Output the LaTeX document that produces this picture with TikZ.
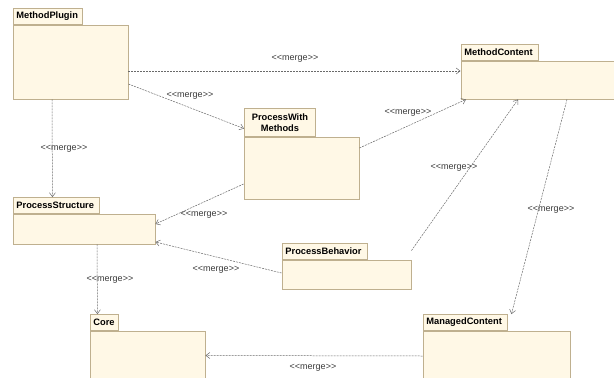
\documentclass[tikz,border=0pt]{standalone}
\usepackage{fontspec}
\setmainfont{Liberation Sans}[Ligatures=TeXOff]
\usetikzlibrary{arrows.meta}
\definecolor{pkgfill}{HTML}{FFF8E6}
\definecolor{pkgline}{HTML}{BFB08F}
\definecolor{conn}{HTML}{6A6A6A}
\definecolor{lbl}{HTML}{3A3A3A}
\newcommand\mrgtxt{<\kern0pt<merge>\kern0pt>}
\tikzset{
  body/.style={draw=pkgline, fill=pkgfill, line width=0.9pt, inner sep=0pt},
  tab/.style={draw=pkgline, fill=pkgfill, line width=0.9pt, anchor=south west,
    inner xsep=3pt, inner ysep=1pt, minimum height=16pt,
    font=\fontsize{9.3}{10.5}\selectfont\bfseries, align=left},
  merge/.style={draw=conn, line width=0.5pt, dash pattern=on 2pt off 1pt,
    -{Straight Barb[length=4pt,width=6pt]}},
  mlab/.style={text=lbl, font=\fontsize{9}{10}\selectfont, inner sep=0pt}
}
\begin{document}
\begin{tikzpicture}[x=1pt,y=-1pt]
\useasboundingbox (0,0) rectangle (614,378);
% packages
\node[body, minimum width=115pt, minimum height=74pt] (mp) at (70.5,62) {};
\node[tab, text width=63pt] (mpt) at (13,25) {MethodPlugin};
\node[body, minimum width=154pt, minimum height=38pt] (mc) at (538,80) {};
\node[tab, text width=71pt] (mct) at (461,61) {MethodContent};
\node[body, minimum width=115pt, minimum height=62pt] (pwm) at (301.5,168) {};
\node[tab, text width=65pt, align=center, minimum height=28pt] (pwmt) at (244,137) {ProcessWith\\Methods};
\node[body, minimum width=142pt, minimum height=30pt] (ps) at (84,229) {};
\node[tab, text width=80pt] (pst) at (13,214) {ProcessStructure};
\node[body, minimum width=129pt, minimum height=29pt] (pb) at (346.5,274.5) {};
\node[tab, text width=79pt] (pbt) at (282,260) {ProcessBehavior};
\node[body, minimum width=115pt, minimum height=52pt] (core) at (147.5,357) {};
\node[tab, text width=22pt] (coret) at (90,331) {Core};
\node[body, minimum width=147pt, minimum height=52pt] (mgc) at (496.5,357) {};
\node[tab, text width=78pt] (mgct) at (423,331) {ManagedContent};
% connectors
\draw[merge] ([yshift=-9pt]mp.east) -- ([yshift=9pt]mc.west)
  node[mlab] (l1) at (295,59) {\mrgtxt};
\draw[merge] ([yshift=-22pt]mp.east) -- ([yshift=-6pt]pwmt.west)
  node[mlab] (l2) at (190,96) {\mrgtxt};
\draw[merge] ([xshift=-18.5pt]mp.south) -- ([xshift=-4pt]pst.north)
  node[mlab] (l3) at (64,149) {\mrgtxt};
\draw[merge] ([yshift=20pt]pwm.east) -- ([xshift=-72pt]mc.south)
  node[mlab] (l4) at (408,113) {\mrgtxt};
\draw[merge] ([yshift=-16pt]pwm.west) -- ([yshift=5pt]ps.east)
  node[mlab] (l5) at (204,215) {\mrgtxt};
\draw[merge] ([yshift=1.5pt]pb.west) -- ([yshift=-13pt]ps.east)
  node[mlab] (l6) at (216,270) {\mrgtxt};
\draw[merge] ([yshift=9pt]pb.north east) -- ([xshift=-20pt]mc.south)
  node[mlab] (l7) at (454,168) {\mrgtxt};
\draw[merge] ([xshift=13pt]ps.south) -- ([xshift=-7pt]coret.north)
  node[mlab] (l8) at (110,280) {\mrgtxt};
\draw[merge] ([xshift=29pt]mc.south) -- ([xshift=46pt]mgct.north)
  node[mlab] (l9) at (551,210) {\mrgtxt};
\draw[merge] ([yshift=1pt]mgc.west) -- ([yshift=1.5pt]core.east)
  node[mlab] (l10) at (313,368) {\mrgtxt};
\end{tikzpicture}
\end{document}
